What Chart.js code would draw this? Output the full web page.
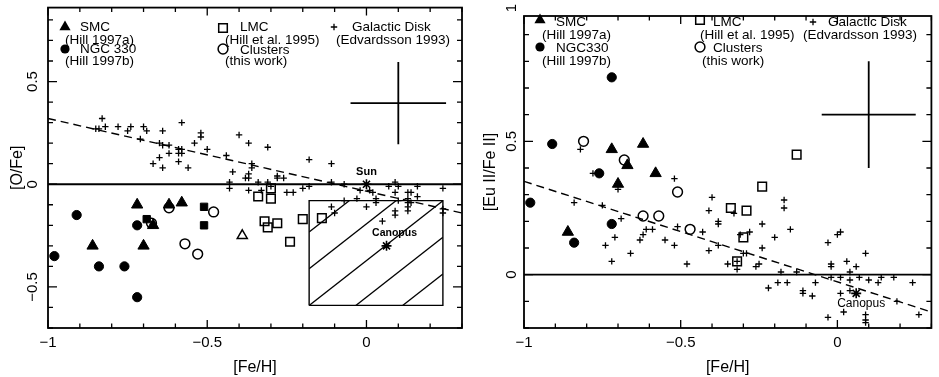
<!DOCTYPE html>
<html>
<head>
<meta charset="utf-8">
<script src="https://cdn.jsdelivr.net/npm/chart.js@4.4.1/dist/chart.umd.min.js"></script>
<style>
body{margin:0;background:#fff;overflow:hidden}
#wrap{position:relative;width:939px;height:377px}
canvas{position:absolute;top:0}
</style>
</head>
<body>
<div id="wrap">
<canvas id="oxy" width="470" height="377" style="left:0"></canvas>
<canvas id="eu" width="469" height="377" style="left:470px"></canvas>
</div>
<script>
// shared axis setup
const xRange = [-1, 0.3];
const xTicks = [-1, -0.5, 0];

// ---- left panel: [O/Fe] vs [Fe/H] ----
const yRangeO = [-0.7, 0.86];
const yTicksO = [-0.5, 0, 0.5];
const smcO = [[-0.72,-0.10],[-0.62,-0.10],[-0.58,-0.09],[-0.86,-0.30],[-0.70,-0.30],[-0.67,-0.20]];
const ngcO = [[-0.91,-0.15],[-0.98,-0.35],[-0.84,-0.40],[-0.76,-0.40],[-0.72,-0.20],[-0.72,-0.55]];
const lmcO = [[-0.34,-0.06],[-0.30,-0.02],[-0.30,-0.07],[-0.32,-0.18],[-0.31,-0.21],[-0.28,-0.19],[-0.24,-0.28],[-0.20,-0.17],[-0.14,-0.165]];
const clusO = [[-0.62,-0.115],[-0.48,-0.135],[-0.57,-0.29],[-0.53,-0.34],[-0.675,-0.19]];
const filledSqO = [[-0.69,-0.17],[-0.51,-0.11],[-0.51,-0.20]];
const openTriO = [[-0.39,-0.25]];
const diskO = [
  [-0.83,0.32],[-0.85,0.27],[-0.84,0.27],[-0.82,0.28],[-0.78,0.28],[-0.75,0.26],[-0.74,0.28],[-0.70,0.28],
  [-0.69,0.26],[-0.64,0.26],[-0.58,0.30],[-0.71,0.22],[-0.65,0.20],[-0.64,0.19],[-0.62,0.19],[-0.59,0.17],
  [-0.58,0.17],[-0.59,0.15],[-0.58,0.15],[-0.52,0.25],[-0.52,0.23],[-0.54,0.20],[-0.50,0.17],[-0.62,0.15],
  [-0.65,0.13],[-0.67,0.10],[-0.64,0.08],[-0.59,0.11],[-0.56,0.08],[-0.44,0.14],[-0.42,0.06],[-0.43,0.01],
  [-0.43,-0.02],[-0.40,0.24],[-0.37,0.20],[-0.31,0.18],[-0.36,0.10],[-0.36,0.08],[-0.37,0.05],[-0.38,0.03],
  [-0.37,0.03],[-0.34,0.01],[-0.31,0.01],[-0.28,0.04],[-0.28,0.03],[-0.26,0.03],[-0.37,-0.03],[-0.33,-0.03],
  [-0.30,-0.01],[-0.25,-0.04],[-0.23,-0.04],[-0.20,-0.02],[-0.18,-0.01],[-0.18,0.12],[-0.11,0.10],[-0.11,0.01],
  [-0.07,0.00],[-0.02,-0.03],[0.01,-0.03],[0.02,-0.04],[0.07,-0.01],[0.09,0.01],[0.10,-0.01],[0.09,-0.04],
  [0.13,-0.04],[0.14,-0.04],[0.13,-0.07],[0.13,-0.09],[0.13,-0.11],[0.13,-0.13],[0.16,-0.01],[0.24,-0.02],
  [0.14,-0.09],[-0.07,-0.08],[-0.03,-0.07],[0.03,-0.07],[0.03,-0.09],[0.10,-0.08],[-0.11,-0.11],[-0.10,-0.14],
  [0.00,-0.11],[0.09,-0.13],[0.09,-0.15],[0.05,-0.18],[0.24,-0.12],[0.24,-0.14],[0.16,-0.06]
];
const sunO = [[0, 0]];
const canopusO = [[0.063, -0.30]];
const fitOX = [-1, 0.3];
const fitOY = [0.32, -0.14];
const errO = [0.10, 0.395];
const boxOX = [-0.18, 0.24];
const boxOY = [-0.59, -0.08];

// ---- right panel: [Eu II/Fe II] vs [Fe/H] ----
const yRangeEu = [-0.2, 0.97];
const yTicksEu = [0, 0.5, 1];
const smcEu = [[-0.72,0.47],[-0.62,0.49],[-0.67,0.41],[-0.58,0.38],[-0.70,0.34],[-0.86,0.16]];
const ngcEu = [[-0.91,0.49],[-0.72,0.74],[-0.76,0.38],[-0.98,0.27],[-0.84,0.12],[-0.72,0.19]];
const lmcEu = [[-0.13,0.45],[-0.24,0.33],[-0.34,0.25],[-0.29,0.24],[-0.30,0.14],[-0.32,0.05]];
const clusEu = [[-0.81,0.50],[-0.68,0.43],[-0.51,0.31],[-0.62,0.22],[-0.57,0.22],[-0.47,0.17]];
const diskEu = [
  [-0.82,0.47],[-0.78,0.38],[-0.52,0.36],[-0.84,0.27],[-0.75,0.26],[-0.70,0.32],[-0.69,0.21],[-0.71,0.14],
  [-0.74,0.11],[-0.66,0.08],[-0.72,0.05],[-0.63,0.13],[-0.62,0.15],[-0.61,0.17],[-0.59,0.17],[-0.55,0.13],
  [-0.52,0.11],[-0.51,0.18],[-0.48,0.04],[-0.43,0.16],[-0.40,0.29],[-0.41,0.24],[-0.38,0.20],[-0.38,0.19],
  [-0.41,0.09],[-0.38,0.11],[-0.33,0.23],[-0.35,0.04],[-0.32,0.02],[-0.31,0.15],[-0.30,0.08],[-0.29,0.08],
  [-0.28,0.16],[-0.24,0.19],[-0.24,0.10],[-0.26,0.03],[-0.25,0.04],[-0.20,0.14],[-0.17,0.28],[-0.17,0.25],
  [-0.15,0.17],[-0.18,0.01],[-0.13,0.01],[-0.22,-0.05],[-0.19,-0.03],[-0.16,-0.03],[-0.11,-0.06],[-0.11,-0.07],
  [-0.08,-0.08],[-0.07,-0.03],[-0.03,0.12],[0.00,0.15],[0.01,0.16],[0.09,0.08],[-0.02,0.04],[-0.02,0.03],
  [-0.02,-0.01],[0.03,0.05],[0.04,0.01],[0.06,0.03],[0.01,-0.07],[0.04,-0.06],[0.01,-0.01],[0.04,-0.02],
  [0.07,-0.01],[0.10,-0.02],[0.13,-0.03],[0.14,-0.01],[0.18,-0.01],[0.24,-0.03],[-0.03,-0.16],[0.02,-0.14],
  [0.09,-0.15],[0.09,-0.17],[0.09,-0.18],[0.19,-0.10],[0.26,-0.15],[-0.32,0.05]
];
const canopusEu = [[0.06, -0.07]];
const fitEuX = [-1, 0.3];
const fitEuY = [0.35, -0.14];
const errEu = [0.10, 0.60];
const errSize = [0.15, 0.20];

const FONT = '"Liberation Sans", Arial, Helvetica, sans-serif';

function pts(data, style, r, filled, bw) {
  return {
    data: data, showLine: false, pointStyle: style, pointRadius: r, pointHoverRadius: r,
    pointBackgroundColor: filled ? '#000' : 'rgba(0,0,0,0)',
    pointBorderColor: '#000', pointBorderWidth: bw || (filled ? 1 : 1.5)
  };
}
function line(xs, ys, w, dash) {
  return {
    data: xs.map((x, i) => [x, ys[i]]), showLine: true, pointRadius: 0,
    borderColor: '#000', borderWidth: w, borderDash: dash || [], fill: false, tension: 0
  };
}
function errBars(c) {
  return [
    line([c[0] - errSize[0], c[0] + errSize[0]], [c[1], c[1]], 1.8),
    line([c[0], c[0]], [c[1] - errSize[1], c[1] + errSize[1]], 1.8)
  ];
}

// little legend symbols, same shapes as the point styles
function sym(ctx, kind, x, y) {
  ctx.save();
  ctx.fillStyle = '#000'; ctx.strokeStyle = '#000'; ctx.lineWidth = 1.5;
  ctx.beginPath();
  if (kind === 'tri') {
    ctx.moveTo(x, y - 6.5); ctx.lineTo(x + 5.6, y + 3.25); ctx.lineTo(x - 5.6, y + 3.25); ctx.closePath(); ctx.fill();
  } else if (kind === 'dot') {
    ctx.arc(x, y, 4.6, 0, Math.PI * 2); ctx.fill();
  } else if (kind === 'ring') {
    ctx.arc(x, y, 4.9, 0, Math.PI * 2); ctx.stroke();
  } else if (kind === 'sq') {
    ctx.rect(x - 4.3, y - 4.3, 8.6, 8.6); ctx.stroke();
  } else if (kind === 'plus') {
    ctx.lineWidth = 1.3;
    ctx.moveTo(x - 3.2, y); ctx.lineTo(x + 3.2, y); ctx.moveTo(x, y - 3.2); ctx.lineTo(x, y + 3.2); ctx.stroke();
  }
  ctx.restore();
}

function decor(cfg) {
  return {
    id: 'decor',
    beforeDatasetsDraw(chart) {
      if (!cfg.hatch) return;
      const ctx = chart.ctx, sx = chart.scales.x, sy = chart.scales.y;
      const x0 = sx.getPixelForValue(cfg.hatch[0][0]), x1 = sx.getPixelForValue(cfg.hatch[0][1]);
      const y0 = sy.getPixelForValue(cfg.hatch[1][0]), y1 = sy.getPixelForValue(cfg.hatch[1][1]);
      const w = x1 - x0, h = y0 - y1, step = h * 0.35;
      ctx.save();
      ctx.beginPath(); ctx.rect(x0, y1, w, h); ctx.clip();
      ctx.strokeStyle = '#000'; ctx.lineWidth = 1.3;
      for (let k = -3; k <= 3; k++) {
        ctx.beginPath();
        ctx.moveTo(x0, y0 - k * step);
        ctx.lineTo(x1, y1 - k * step);
        ctx.stroke();
      }
      ctx.restore();
    },
    afterDraw(chart) {
      const ctx = chart.ctx, a = chart.chartArea, sx = chart.scales.x, sy = chart.scales.y;
      ctx.save();
      ctx.strokeStyle = '#000'; ctx.fillStyle = '#000';
      ctx.lineWidth = 1.8;
      ctx.strokeRect(a.left, a.top, a.right - a.left, a.bottom - a.top);
      // inward ticks, minor every 0.1
      ctx.lineWidth = 1.3;
      ctx.beginPath();
      for (let i = Math.ceil(sx.min * 10 - 1e-6); i <= Math.floor(sx.max * 10 + 1e-6); i++) {
        const p = sx.getPixelForValue(i / 10), len = i % 5 === 0 ? 8 : 4.5;
        ctx.moveTo(p, a.bottom); ctx.lineTo(p, a.bottom - len);
        ctx.moveTo(p, a.top); ctx.lineTo(p, a.top + len);
      }
      for (let i = Math.ceil(sy.min * 10 - 1e-6); i <= Math.floor(sy.max * 10 + 1e-6); i++) {
        const p = sy.getPixelForValue(i / 10), len = i % 5 === 0 ? 9 : 5;
        ctx.moveTo(a.left, p); ctx.lineTo(a.left + len, p);
        ctx.moveTo(a.right, p); ctx.lineTo(a.right - len, p);
      }
      ctx.stroke();
      // rotated y tick labels and title
      ctx.textAlign = 'center'; ctx.textBaseline = 'middle';
      ctx.font = '15px ' + FONT;
      cfg.yTicks.forEach(v => {
        ctx.save();
        ctx.translate(a.left - cfg.yLabelOff, sy.getPixelForValue(v));
        ctx.rotate(-Math.PI / 2);
        ctx.fillText(v === 0 ? '0' : (v < 0 ? '\u2212' : '') + Math.abs(v), 0, 0);
        ctx.restore();
      });
      ctx.save();
      ctx.font = '16px ' + FONT;
      ctx.translate(cfg.yTitleX, (a.top + a.bottom) / 2);
      ctx.rotate(-Math.PI / 2);
      ctx.fillText(cfg.yTitle, 0, 0);
      ctx.restore();
      // legend block
      cfg.syms.forEach(s => sym(ctx, s[0], s[1], s[2]));
      ctx.textAlign = 'left';
      ctx.font = '13.5px ' + FONT;
      cfg.texts.forEach(t => ctx.fillText(t[0], t[1], t[2]));
      // star labels
      ctx.textAlign = 'center';
      cfg.notes.forEach(n => {
        ctx.font = n[4] + ' ' + FONT;
        ctx.fillText(n[0], sx.getPixelForValue(n[1][0][0]) + n[2], sy.getPixelForValue(n[1][0][1]) + n[3]);
      });
      ctx.restore();
    }
  };
}

function makeChart(id, datasets, yRange, pad, yWidth, plug) {
  return new Chart(document.getElementById(id), {
    type: 'scatter',
    data: { datasets: datasets },
    options: {
      responsive: false, animation: false, events: [],
      layout: { padding: { top: pad[0], right: pad[1], left: 0, bottom: 0 } },
      plugins: { legend: { display: false }, tooltip: { enabled: false } },
      scales: {
        x: {
          type: 'linear', min: xRange[0], max: xRange[1],
          grid: { display: false, drawTicks: false }, border: { display: false },
          afterBuildTicks: s => { s.ticks = xTicks.map(v => ({ value: v })); },
          afterFit: s => { s.height = 49; },
          ticks: {
            color: '#000', font: { family: FONT, size: 15 }, padding: 6, maxRotation: 0, autoSkip: false,
            callback: v => v === 0 ? '0' : (v < 0 ? '\u2212' : '') + Math.abs(v)
          },
          title: { display: true, text: '[Fe/H]', color: '#000', font: { family: FONT, size: 16 }, padding: 0 }
        },
        y: {
          type: 'linear', min: yRange[0], max: yRange[1],
          grid: { display: false, drawTicks: false }, border: { display: false },
          ticks: { display: false },
          afterFit: s => { s.width = yWidth; }
        }
      }
    },
    plugins: [plug]
  });
}

makeChart('oxy', [
  pts(smcO, 'triangle', 6.5, true),
  pts(ngcO, 'circle', 4.6, true),
  pts(filledSqO, 'rect', 5.2, true),
  pts(openTriO, 'triangle', 5.8, false),
  pts(lmcO, 'rect', 6.1, false),
  pts(clusO, 'circle', 4.9, false),
  pts(diskO, 'cross', 3.2, false, 1.3),
  pts(sunO, 'star', 5, false, 1.6),
  pts(canopusO, 'star', 5, false, 1.6),
  line(fitOX, fitOY, 1.4, [8, 5]),
  line(xRange, [0, 0], 1.8),
  line([boxOX[0], boxOX[1], boxOX[1], boxOX[0], boxOX[0]], [boxOY[0], boxOY[0], boxOY[1], boxOY[1], boxOY[0]], 1.4)
].concat(errBars(errO)), yRangeO, [6, 8], 48, decor({
  hatch: [boxOX, boxOY],
  yTicks: yTicksO, yLabelOff: 15, yTitle: '[O/Fe]', yTitleX: 18,
  syms: [['tri', 65, 27], ['dot', 65, 49], ['sq', 223, 28], ['ring', 223, 49], ['plus', 334, 27]],
  texts: [['SMC', 80, 27], ['(Hill 1997a)', 65, 40], ['NGC 330', 80, 49], ['(Hill 1997b)', 65, 61],
          ['LMC', 240, 27], ['(Hill et al. 1995)', 225, 40], ['Clusters', 240, 50], ['(this work)', 225, 61],
          ['Galactic Disk', 352, 27], ['(Edvardsson 1993)', 336, 40]],
  notes: [['Sun', sunO, 0, -12, 'bold 11px'], ['Canopus', canopusO, 8, -13, 'bold 10.5px']]
}));

makeChart('eu', [
  pts(smcEu, 'triangle', 6.5, true),
  pts(ngcEu, 'circle', 4.6, true),
  pts(lmcEu, 'rect', 6.1, false),
  pts(clusEu, 'circle', 4.9, false),
  pts(diskEu, 'cross', 3.2, false, 1.3),
  pts(canopusEu, 'star', 5, false, 1.6),
  line(fitEuX, fitEuY, 1.4, [8, 5]),
  line(xRange, [0, 0], 1.8)
].concat(errBars(errEu)), yRangeEu, [16, 1], 54, decor({
  yTicks: yTicksEu, yLabelOff: 12, yTitle: '[Eu II/Fe II]', yTitleX: 21,
  syms: [['tri', 70, 20], ['dot', 70, 47], ['sq', 230, 20], ['ring', 230, 47], ['plus', 343, 22]],
  texts: [['SMC', 86, 22], ['(Hill 1997a)', 72, 35], ['NGC330', 86, 48], ['(Hill 1997b)', 72, 61],
          ['LMC', 243, 22], ['(Hill et al. 1995)', 230, 35], ['Clusters', 243, 48], ['(this work)', 232, 61],
          ['Galactic Disk', 358, 22], ['(Edvardsson 1993)', 333, 35]],
  notes: [['Canopus', canopusEu, 5, 10, '12px']]
}));
</script>
</body>
</html>
